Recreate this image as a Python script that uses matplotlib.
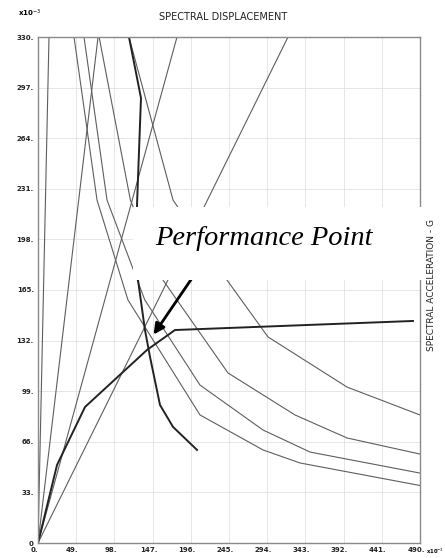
import numpy as np
import matplotlib.pyplot as plt
import matplotlib.transforms as mtransforms
from matplotlib.patches import Rectangle

# Capacity spectrum (Sd, Sa), units x10^-3
cap_sd = [0, 24.4, 60.3, 139.8, 175.7, 481.0]
cap_sa = [0, 50.9, 88.7, 125.9, 138.9, 144.8]

# Reduced demand spectrum (thick)
red_sd = [116.7, 132.1, 127.0, 128.3, 137.2, 143.7, 156.5, 173.2, 204.0]
red_sa = [330.0, 290.2, 220.4, 171.5, 138.9, 121.3, 90.0, 75.7, 60.7]

# Demand spectra for the damping levels (thin)
dem_a_sd = [116.7, 173.2, 242.4, 295.0, 396.4, 490.0]
dem_a_sa = [330.0, 223.7, 171.5, 134.4, 101.7, 83.5]
dem_b_sd = [78.4, 118.5, 160.3, 243.7, 329.7, 396.4, 490.0]
dem_b_sa = [330.0, 223.7, 171.5, 110.9, 83.5, 68.5, 58.0]
dem_c_sd = [59.0, 88.5, 137.0, 207.8, 288.6, 349.0, 490.0]
dem_c_sa = [330.0, 223.7, 158.5, 103.0, 73.7, 59.3, 45.6]
dem_d_sd = [46.2, 75.7, 115.4, 207.8, 288.6, 336.0, 490.0]
dem_d_sa = [330.0, 223.7, 158.5, 83.5, 60.7, 52.2, 37.5]

# Constant-period lines from the origin, Sd where they reach the top
period_sd_top = [14.1, 77.0, 178.3, 320.7]

x_ticks = [0, 49, 98, 147, 196, 245, 294, 343, 392, 441, 490]
y_ticks = [0, 33, 66, 99, 132, 165, 198, 231, 264, 297, 330]

fig = plt.figure(figsize=(4.45, 5.58), dpi=100)
ax = fig.add_axes([38/445, 15/558, 382/445, 506/558])
ax.set_xlim(0, 490)
ax.set_ylim(0, 330)

ax.set_xticks(x_ticks)
ax.set_yticks(y_ticks)
ax.set_xticklabels(['%d.' % v for v in x_ticks], fontsize=5, fontweight='bold')
ax.set_yticklabels(['%d.' % v if v else '0' for v in y_ticks], fontsize=5, fontweight='bold')
ax.tick_params(length=0, pad=3, colors='#222222')
# nudge the x labels a little to the left
shift = mtransforms.ScaledTranslation(-4/100, 0, fig.dpi_scale_trans)
for lbl in ax.get_xticklabels():
    lbl.set_transform(lbl.get_transform() + shift)
ax.grid(True, color='#e2e2e2', lw=0.6)
for s in ax.spines.values():
    s.set_color('#8a8a8a')
    s.set_linewidth(1.0)

for sd in period_sd_top:
    ax.plot([0, sd], [0, 330], color='#5e5e5e', lw=0.8)

for sd, sa in [(dem_a_sd, dem_a_sa), (dem_b_sd, dem_b_sa),
               (dem_c_sd, dem_c_sa), (dem_d_sd, dem_d_sa)]:
    ax.plot(sd, sa, color='#5e5e5e', lw=0.8)

ax.plot(red_sd, red_sa, color='#222222', lw=1.4)
ax.plot(cap_sd, cap_sa, color='#222222', lw=1.4)

fig.text(223/445, 1 - 17/558, 'SPECTRAL DISPLACEMENT', fontsize=7,
         ha='center', va='center', color='#222222')
fig.text(432/445, 1 - 285/558, 'SPECTRAL ACCELERATION - G', fontsize=6.5,
         rotation=90, ha='center', va='center', color='#222222', zorder=5)
fig.text(18/445, 1 - 13/558, r'x10$^{-3}$', fontsize=5, fontweight='bold',
         ha='left', va='center')
fig.text(426/445, 1 - 551/558, r'x10$^{-3}$', fontsize=3.8, fontweight='bold',
         ha='left', va='center')

# Performance point callout
fig.patches.append(Rectangle((133/445, 1 - 280/558), 293/445, 73/558,
                             transform=fig.transFigure, facecolor='white',
                             edgecolor='none', zorder=3))
fig.text(155/445, 1 - 245/558, 'Performance Point', fontsize=20.5,
         family='Liberation Serif', style='italic', ha='left',
         va='baseline', zorder=4)
ax.annotate('', xy=(146.2, 134.4), xytext=(206.5, 179.4),
            arrowprops=dict(arrowstyle='-|>', color='black', lw=2,
                            mutation_scale=16), zorder=6)

fig.savefig('out.png', dpi=100)
